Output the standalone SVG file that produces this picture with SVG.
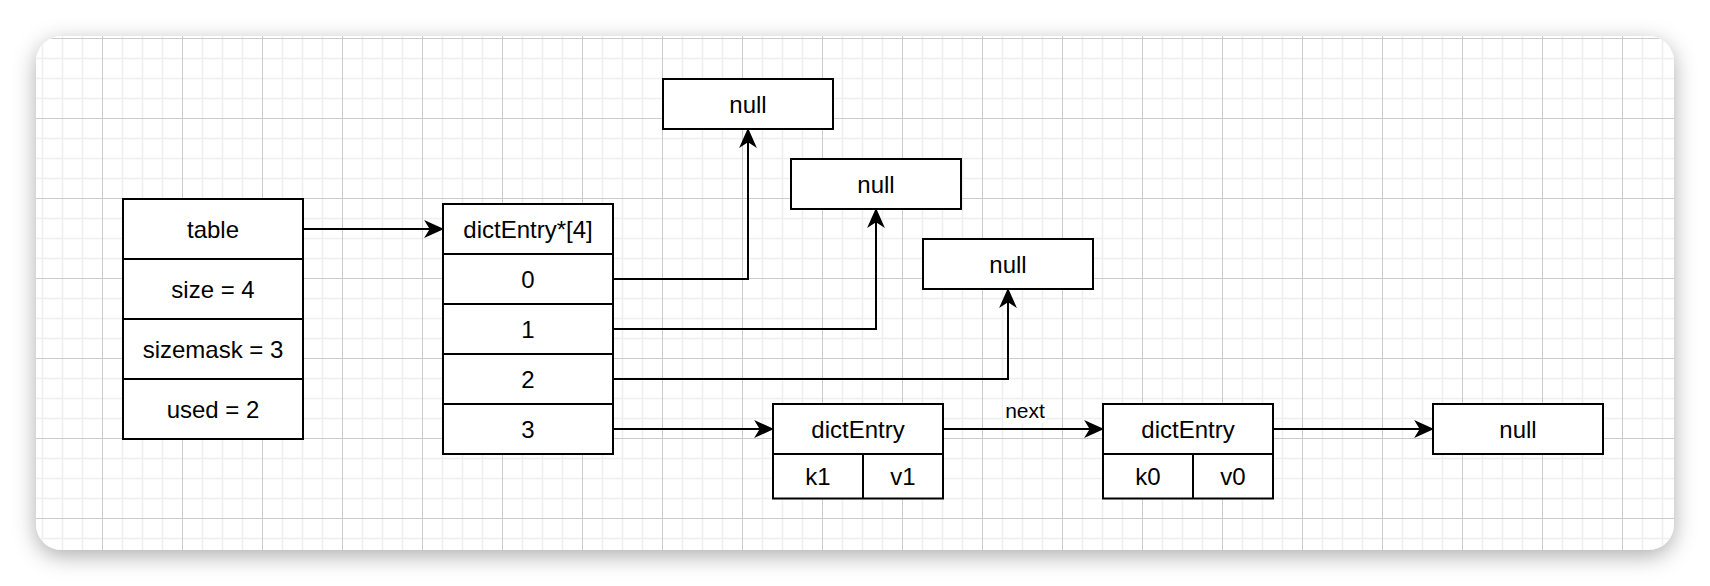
<svg xmlns="http://www.w3.org/2000/svg" width="1710" height="586" viewBox="0 0 1710 586">
<style>
.box{fill:#ffffff;stroke:#000000;stroke-width:2}
.div{fill:none;stroke:#000000;stroke-width:2}
.t{font-family:"Liberation Sans",Arial,Helvetica,sans-serif;font-size:24px;fill:#000000;text-anchor:middle}
.lbl{font-family:"Liberation Sans",Arial,Helvetica,sans-serif;font-size:21px;fill:#000000;text-anchor:middle}
.edge{fill:none;stroke:#000000;stroke-width:2;marker-end:url(#arr)}
.minor{stroke:#efefef;stroke-width:1.6}
.major{stroke:#cbcbcb;stroke-width:1}
</style>
<defs>
<filter id="sh" x="-5%" y="-15%" width="110%" height="130%">
<feDropShadow dx="0" dy="6" stdDeviation="11" flood-color="#000000" flood-opacity="0.32"/>
</filter>
<clipPath id="cardclip"><rect x="36" y="36" width="1638" height="514" rx="26" ry="26"/></clipPath>
<pattern id="grid" patternUnits="userSpaceOnUse" x="22" y="38" width="80" height="80">
<path class="minor" d="M20.5 0V80M40.5 0V80M60.5 0V80M0 20.5H80M0 40.5H80M0 60.5H80"/>
<path class="major" d="M0.5 0V80M0 0.5H80"/>
</pattern>
<marker id="arr" markerUnits="userSpaceOnUse" markerWidth="20" markerHeight="18" viewBox="0 0 18 16" refX="8" refY="8" orient="auto">
<path d="M0 0L18 8L0 16L5 8Z" fill="#000000"/>
</marker>
</defs>
<rect x="0" y="0" width="1710" height="586" fill="#ffffff"/>
<rect x="36" y="36" width="1638" height="514" rx="26" ry="26" fill="#ffffff" filter="url(#sh)"/>
<rect x="36" y="36" width="1638" height="514" fill="url(#grid)" clip-path="url(#cardclip)"/>

<g id="connectors">
<path class="edge" d="M303 229H433"/>
<path class="edge" d="M613 279H748V139"/>
<path class="edge" d="M613 329H876V219"/>
<path class="edge" d="M613 379H1008V299"/>
<path class="edge" d="M613 429H763"/>
<path class="edge" d="M943 429H1093"/>
<path class="edge" d="M1273 429H1423"/>
<g id="label-next">
<rect x="1003" y="401" width="44" height="22" fill="#ffffff"/>
<text class="lbl" x="1025" y="417.5">next</text>
</g>
</g>

<g id="table">
<rect class="box" x="123" y="199" width="180" height="240"/>
<path class="div" d="M123 259H303M123 319H303M123 379H303"/>
<text class="t" x="213" y="237.5">table</text>
<text class="t" x="213" y="297.5">size = 4</text>
<text class="t" x="213" y="357.5">sizemask = 3</text>
<text class="t" x="213" y="417.5">used = 2</text>
</g>

<g id="array">
<rect class="box" x="443" y="204" width="170" height="250"/>
<path class="div" d="M443 254H613M443 304H613M443 354H613M443 404H613"/>
<text class="t" x="528" y="237.5">dictEntry*[4]</text>
<text class="t" x="528" y="287.5">0</text>
<text class="t" x="528" y="337.5">1</text>
<text class="t" x="528" y="387.5">2</text>
<text class="t" x="528" y="437.5">3</text>
</g>

<g id="null1">
<rect class="box" x="663" y="79" width="170" height="50"/>
<text class="t" x="748" y="112.5">null</text>
</g>
<g id="null2">
<rect class="box" x="791" y="159" width="170" height="50"/>
<text class="t" x="876" y="192.5">null</text>
</g>
<g id="null3">
<rect class="box" x="923" y="239" width="170" height="50"/>
<text class="t" x="1008" y="272.5">null</text>
</g>

<g id="dictEntry1">
<rect class="box" x="773" y="404" width="170" height="94.5"/>
<path class="div" d="M773 454H943M863 454V498.5"/>
<text class="t" x="858" y="437.5">dictEntry</text>
<text class="t" x="818" y="484.75">k1</text>
<text class="t" x="903" y="484.75">v1</text>
</g>

<g id="dictEntry0">
<rect class="box" x="1103" y="404" width="170" height="94.5"/>
<path class="div" d="M1103 454H1273M1193 454V498.5"/>
<text class="t" x="1188" y="437.5">dictEntry</text>
<text class="t" x="1148" y="484.75">k0</text>
<text class="t" x="1233" y="484.75">v0</text>
</g>

<g id="null4">
<rect class="box" x="1433" y="404" width="170" height="50"/>
<text class="t" x="1518" y="437.5">null</text>
</g>
</svg>
